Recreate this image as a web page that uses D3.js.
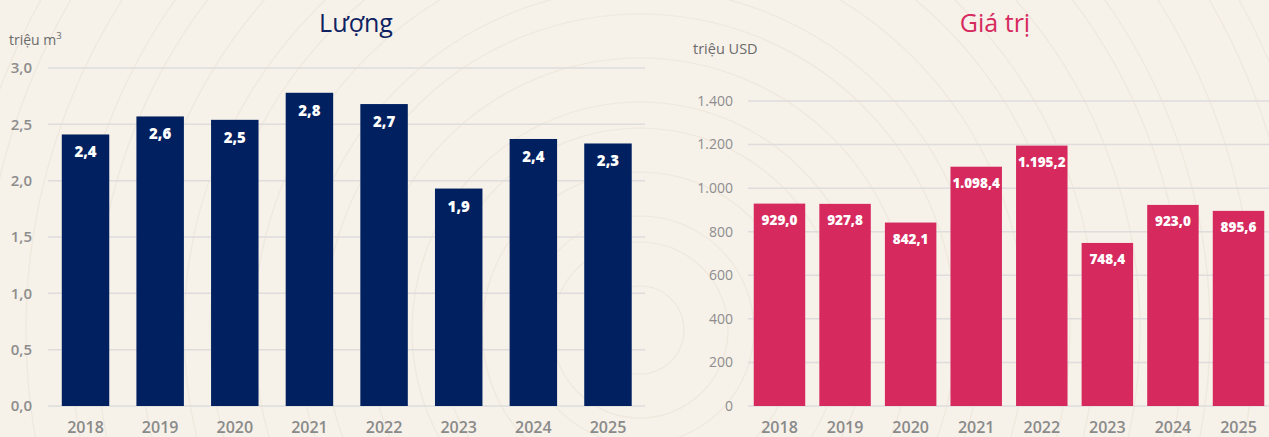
<!DOCTYPE html>
<html>
<head>
<meta charset="utf-8">
<script src="https://cdn.jsdelivr.net/npm/d3@7"></script>
<style>
html,body{margin:0;padding:0;background:#f5f0e7;}
svg{display:block;font-family:"Open Sans",Lato,sans-serif;}
</style>
</head>
<body>
<svg id="chart" width="1269" height="437"></svg>
<script>
const years = ["2018","2019","2020","2021","2022","2023","2024","2025"];
const volume = [2.41, 2.57, 2.54, 2.78, 2.68, 1.93, 2.37, 2.33];
const value = [929.0, 927.8, 842.1, 1098.4, 1195.2, 748.4, 923.0, 895.6];
const volumeTicks = [0, 0.5, 1.0, 1.5, 2.0, 2.5, 3.0];
const valueTicks = [0, 200, 400, 600, 800, 1000, 1200, 1400];

const loc = d3.formatLocale({decimal:",", thousands:".", grouping:[3], currency:["",""]});
const f1 = loc.format(".1f");
const fGroup = loc.format(",.1f");
const fInt = loc.format(",d");

const svg = d3.select("#chart");

// background wood rings (decoration)
const bg = svg.append("g");
bg.append("rect").attr("width",1269).attr("height",437).attr("fill","#f6f1e9");
const rings = d3.range(1, 30);
bg.selectAll("circle").data(rings).join("circle")
  .attr("cx", 640).attr("cy", 330)
  .attr("r", d => d * 38 + (d % 3) * 6)
  .attr("fill","none")
  .attr("stroke","#e2d7c6")
  .attr("stroke-opacity", 0.35)
  .attr("stroke-width", 1.2);

function drawChart(cfg){
  const g = svg.append("g");
  const x = d3.scaleBand().domain(years).range(cfg.xRange).paddingInner(cfg.pad).paddingOuter(cfg.pad/2);
  const y = d3.scaleLinear().domain(cfg.yDomain).range([406, cfg.yTop]);

  g.selectAll("line.grid").data(cfg.ticks).join("line")
    .attr("class","grid")
    .attr("x1", cfg.gridX[0]).attr("x2", cfg.gridX[1])
    .attr("y1", d => y(d)).attr("y2", d => y(d))
    .attr("stroke","#dedcdc").attr("stroke-width",1.5);

  g.selectAll("text.ytick").data(cfg.ticks).join("text")
    .attr("x", cfg.yLabelX).attr("y", d => y(d)).attr("dy","0.35em")
    .attr("text-anchor","end")
    .attr("font-size", cfg.yFont).attr("font-weight", cfg.yWeight)
    .attr("fill","#8d8d8d")
    .text(cfg.yFmt);

  g.selectAll("rect.bar").data(cfg.data).join("rect")
    .attr("x",(d,i)=>x(years[i])).attr("width",x.bandwidth())
    .attr("y",d=>y(d)).attr("height",d=>y(0)-y(d))
    .attr("fill",cfg.color);

  g.selectAll("text.lab").data(cfg.data).join("text")
    .attr("x",(d,i)=>x(years[i])+x.bandwidth()/2)
    .attr("y",d=>y(d)+cfg.labOff)
    .attr("text-anchor","middle")
    .attr("font-size",cfg.labFont).attr("font-weight",800)
    .attr("fill","#ffffff")
    .text(cfg.labFmt);

  const xa = d3.axisBottom(x).tickSize(0).tickPadding(0);
  const ax = g.append("g").attr("transform","translate(0,433)").call(xa);
  ax.select(".domain").remove();
  ax.selectAll("text").attr("font-size",cfg.xFont).attr("font-weight",600).attr("fill","#8a8a8a")
    .attr("font-family","'Open Sans',Lato,sans-serif").attr("dy",0);

  g.append("text").attr("x",cfg.titleX).attr("y",32).attr("text-anchor","middle")
    .attr("font-size",25).attr("fill",cfg.titleColor).text(cfg.title);
}

drawChart({
  data: volume, xRange:[48.2, 645.3], pad:0.364, yDomain:[0,3], yTop:68,
  ticks: volumeTicks, gridX:[48,645], yLabelX:32, yFont:15, yWeight:600,
  yFmt: d=>f1(d), color:"#002060", labOff:23, labFont:15, labFmt:d=>f1(d),
  title:"Lượng", titleX:356, titleColor:"#0e2262", xFont:16
});
drawChart({
  data: value, xRange:[746.7, 1271.3], pad:0.215, yDomain:[0,1400], yTop:101,
  ticks: valueTicks, gridX:[748,1269], yLabelX:733, yFont:14, yWeight:400,
  yFmt: d=>fInt(d), color:"#d62a5f", labOff:21, labFont:13.5, labFmt:d=>fGroup(d),
  title:"Giá trị", titleX:995, titleColor:"#d62a5f", xFont:16
});

const u1 = svg.append("text").attr("x",9).attr("y",45).attr("font-size",14).attr("fill","#6b6b6b");
u1.append("tspan").text("triệu m");
u1.append("tspan").attr("dy",-6).attr("font-size",9.5).text("3");
svg.append("text").attr("x",693).attr("y",54).attr("font-size",14.5).attr("fill","#6b6b6b").text("triệu USD");
</script>
</body>
</html>
